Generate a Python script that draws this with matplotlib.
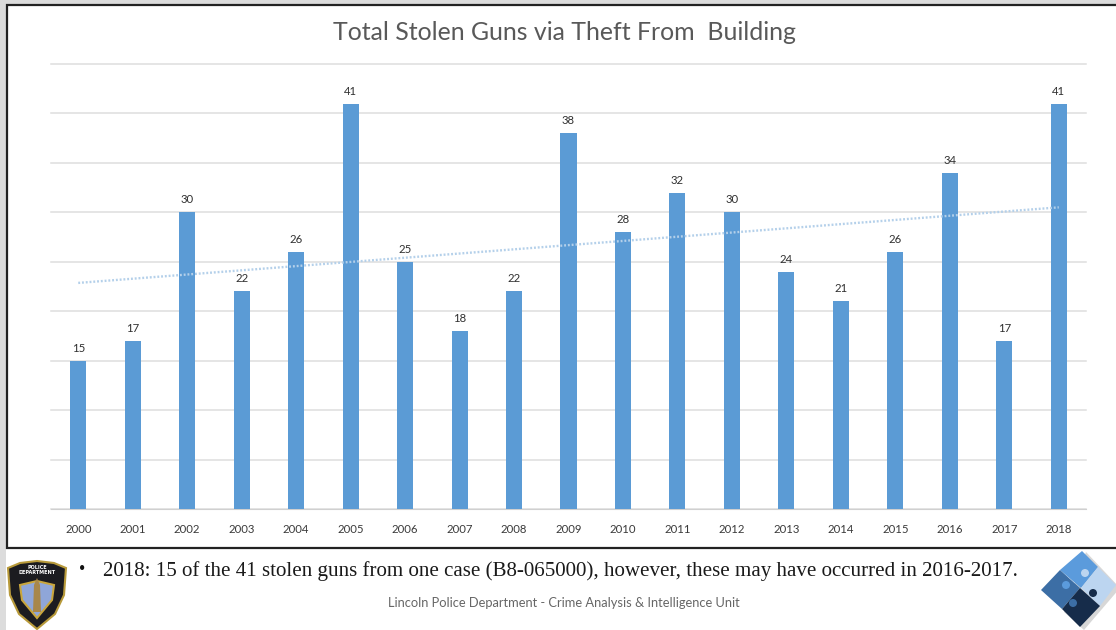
import numpy as np
import matplotlib
matplotlib.use("Agg")
import matplotlib.pyplot as plt
from matplotlib.patches import Polygon, Rectangle, Circle

years = ['2000', '2001', '2002', '2003', '2004', '2005', '2006', '2007', '2008', '2009',
         '2010', '2011', '2012', '2013', '2014', '2015', '2016', '2017', '2018']
stolen = [15, 17, 30, 22, 26, 41, 25, 18, 22, 38, 28, 32, 30, 24, 21, 26, 34, 17, 41]
y_ticks = [0, 5, 10, 15, 20, 25, 30, 35, 40, 45]

W, H = 1116, 630
fig = plt.figure(figsize=(W / 100, H / 100), dpi=100, facecolor='#dcdcdc')

# page layer in pixel coordinates, frame + footer + logos
bg = fig.add_axes([0, 0, 1, 1])
bg.set_xlim(0, W)
bg.set_ylim(H, 0)
bg.axis('off')
bg.add_patch(Rectangle((6, 548), W - 6, H - 548, fc='white', ec='none'))
bg.add_patch(Rectangle((6.5, 4.5), W + 5, 543, fc='white', ec='#222222', lw=1.6))

# police badge
bg.add_patch(Polygon([(8, 568), (20, 563), (37, 561), (54, 563), (66, 568), (64, 595), (55, 614), (37, 629), (19, 614), (10, 595)],
                     fc='#1c1c20', ec='#b89a3a', lw=1.5))
bg.add_patch(Polygon([(20, 585), (37, 581), (54, 585), (52, 600), (37, 618), (22, 600)],
                     fc='#8fa6d8', ec='#c9a63c', lw=1.5))
bg.add_patch(Polygon([(34, 585), (37, 578), (40, 585), (41, 612), (33, 612)], fc='#a8874a', ec='none'))
bg.text(37, 570, 'POLICE\nDEPARTMENT', fontsize=3.5, color='white', ha='center', va='center',
        fontweight='bold', linespacing=0.9)

# puzzle logo
bg.add_patch(Polygon([(1086, 552), (1120, 588), (1084, 630), (1064, 612)], fc='#b0b0b0', ec='none', alpha=0.5))
bg.add_patch(Polygon([(1082, 551), (1098, 567), (1081, 588), (1060, 570)], fc='#5b9bdc', ec='none'))
bg.add_patch(Polygon([(1060, 570), (1041, 590), (1062, 609), (1080, 588)], fc='#3c6ea5', ec='none'))
bg.add_patch(Polygon([(1081, 588), (1098, 567), (1116, 585), (1100, 606)], fc='#bcd5f0', ec='none'))
bg.add_patch(Polygon([(1062, 609), (1080, 627), (1100, 606), (1080, 588)], fc='#162c4a', ec='none'))
bg.add_patch(Circle((1085, 573), 4, fc='#bcd5f0', ec='none'))
bg.add_patch(Circle((1066, 585), 4, fc='#5b9bdc', ec='none'))
bg.add_patch(Circle((1093, 593), 4, fc='#162c4a', ec='none'))
bg.add_patch(Circle((1073, 603), 4, fc='#3c6ea5', ec='none'))

bg.text(82, 569, '\u2022', fontsize=13, color='#111111', ha='center', va='center', family='Liberation Serif')
bg.text(103, 571, '2018: 15 of the 41 stolen guns from one case (B8-065000), however, these may have occurred in 2016-2017.',
        fontsize=15.1, color='#1a1a1a', ha='left', va='center', family='Liberation Serif')
bg.text(564, 603, 'Lincoln Police Department - Crime Analysis & Intelligence Unit',
        fontsize=9.3, color='#666666', ha='center', va='center', family='Lato')

# the chart
ax = fig.add_axes([51 / W, 1 - 509 / H, (1086 - 51) / W, (509 - 64) / H])
ax.patch.set_alpha(0)
x = np.arange(len(years))
ax.bar(x, stolen, width=0.295, color='#5b9bd5', zorder=3)
ax.set_xlim(-0.5, len(years) - 0.5)
ax.set_ylim(0, 45)
ax.set_yticks(y_ticks)
ax.set_yticklabels([])
ax.set_xticks(x)
ax.set_xticklabels(years, fontsize=8.2, color='#3a3a3a', family='Lato')
ax.tick_params(axis='both', length=0)
ax.tick_params(axis='x', pad=11)
ax.grid(axis='y', color='#dedede', lw=1.1, zorder=0, clip_on=False)
for side in ['top', 'right', 'left']:
    ax.spines[side].set_visible(False)
ax.spines['bottom'].set_color('#d0d0d0')

for i, v in zip(x, stolen):
    ax.annotate(str(v), (i, v), xytext=(0, 5), textcoords='offset points', ha='center', va='bottom',
                fontsize=8.2, color='#303030', family='Lato')

# linear trendline like the spreadsheet one
slope, intercept = np.polyfit(x, stolen, 1)
ax.plot(x, slope * x + intercept, color='#b4d0ea', lw=1.7, ls=(0, (0.8, 0.8)), zorder=4)

bg.text(564, 33, 'Total Stolen Guns via Theft From  Building', fontsize=17.9, color='#595959',
        ha='center', va='center', family='Lato')

fig.savefig('out.png', dpi=100, facecolor=fig.get_facecolor())
